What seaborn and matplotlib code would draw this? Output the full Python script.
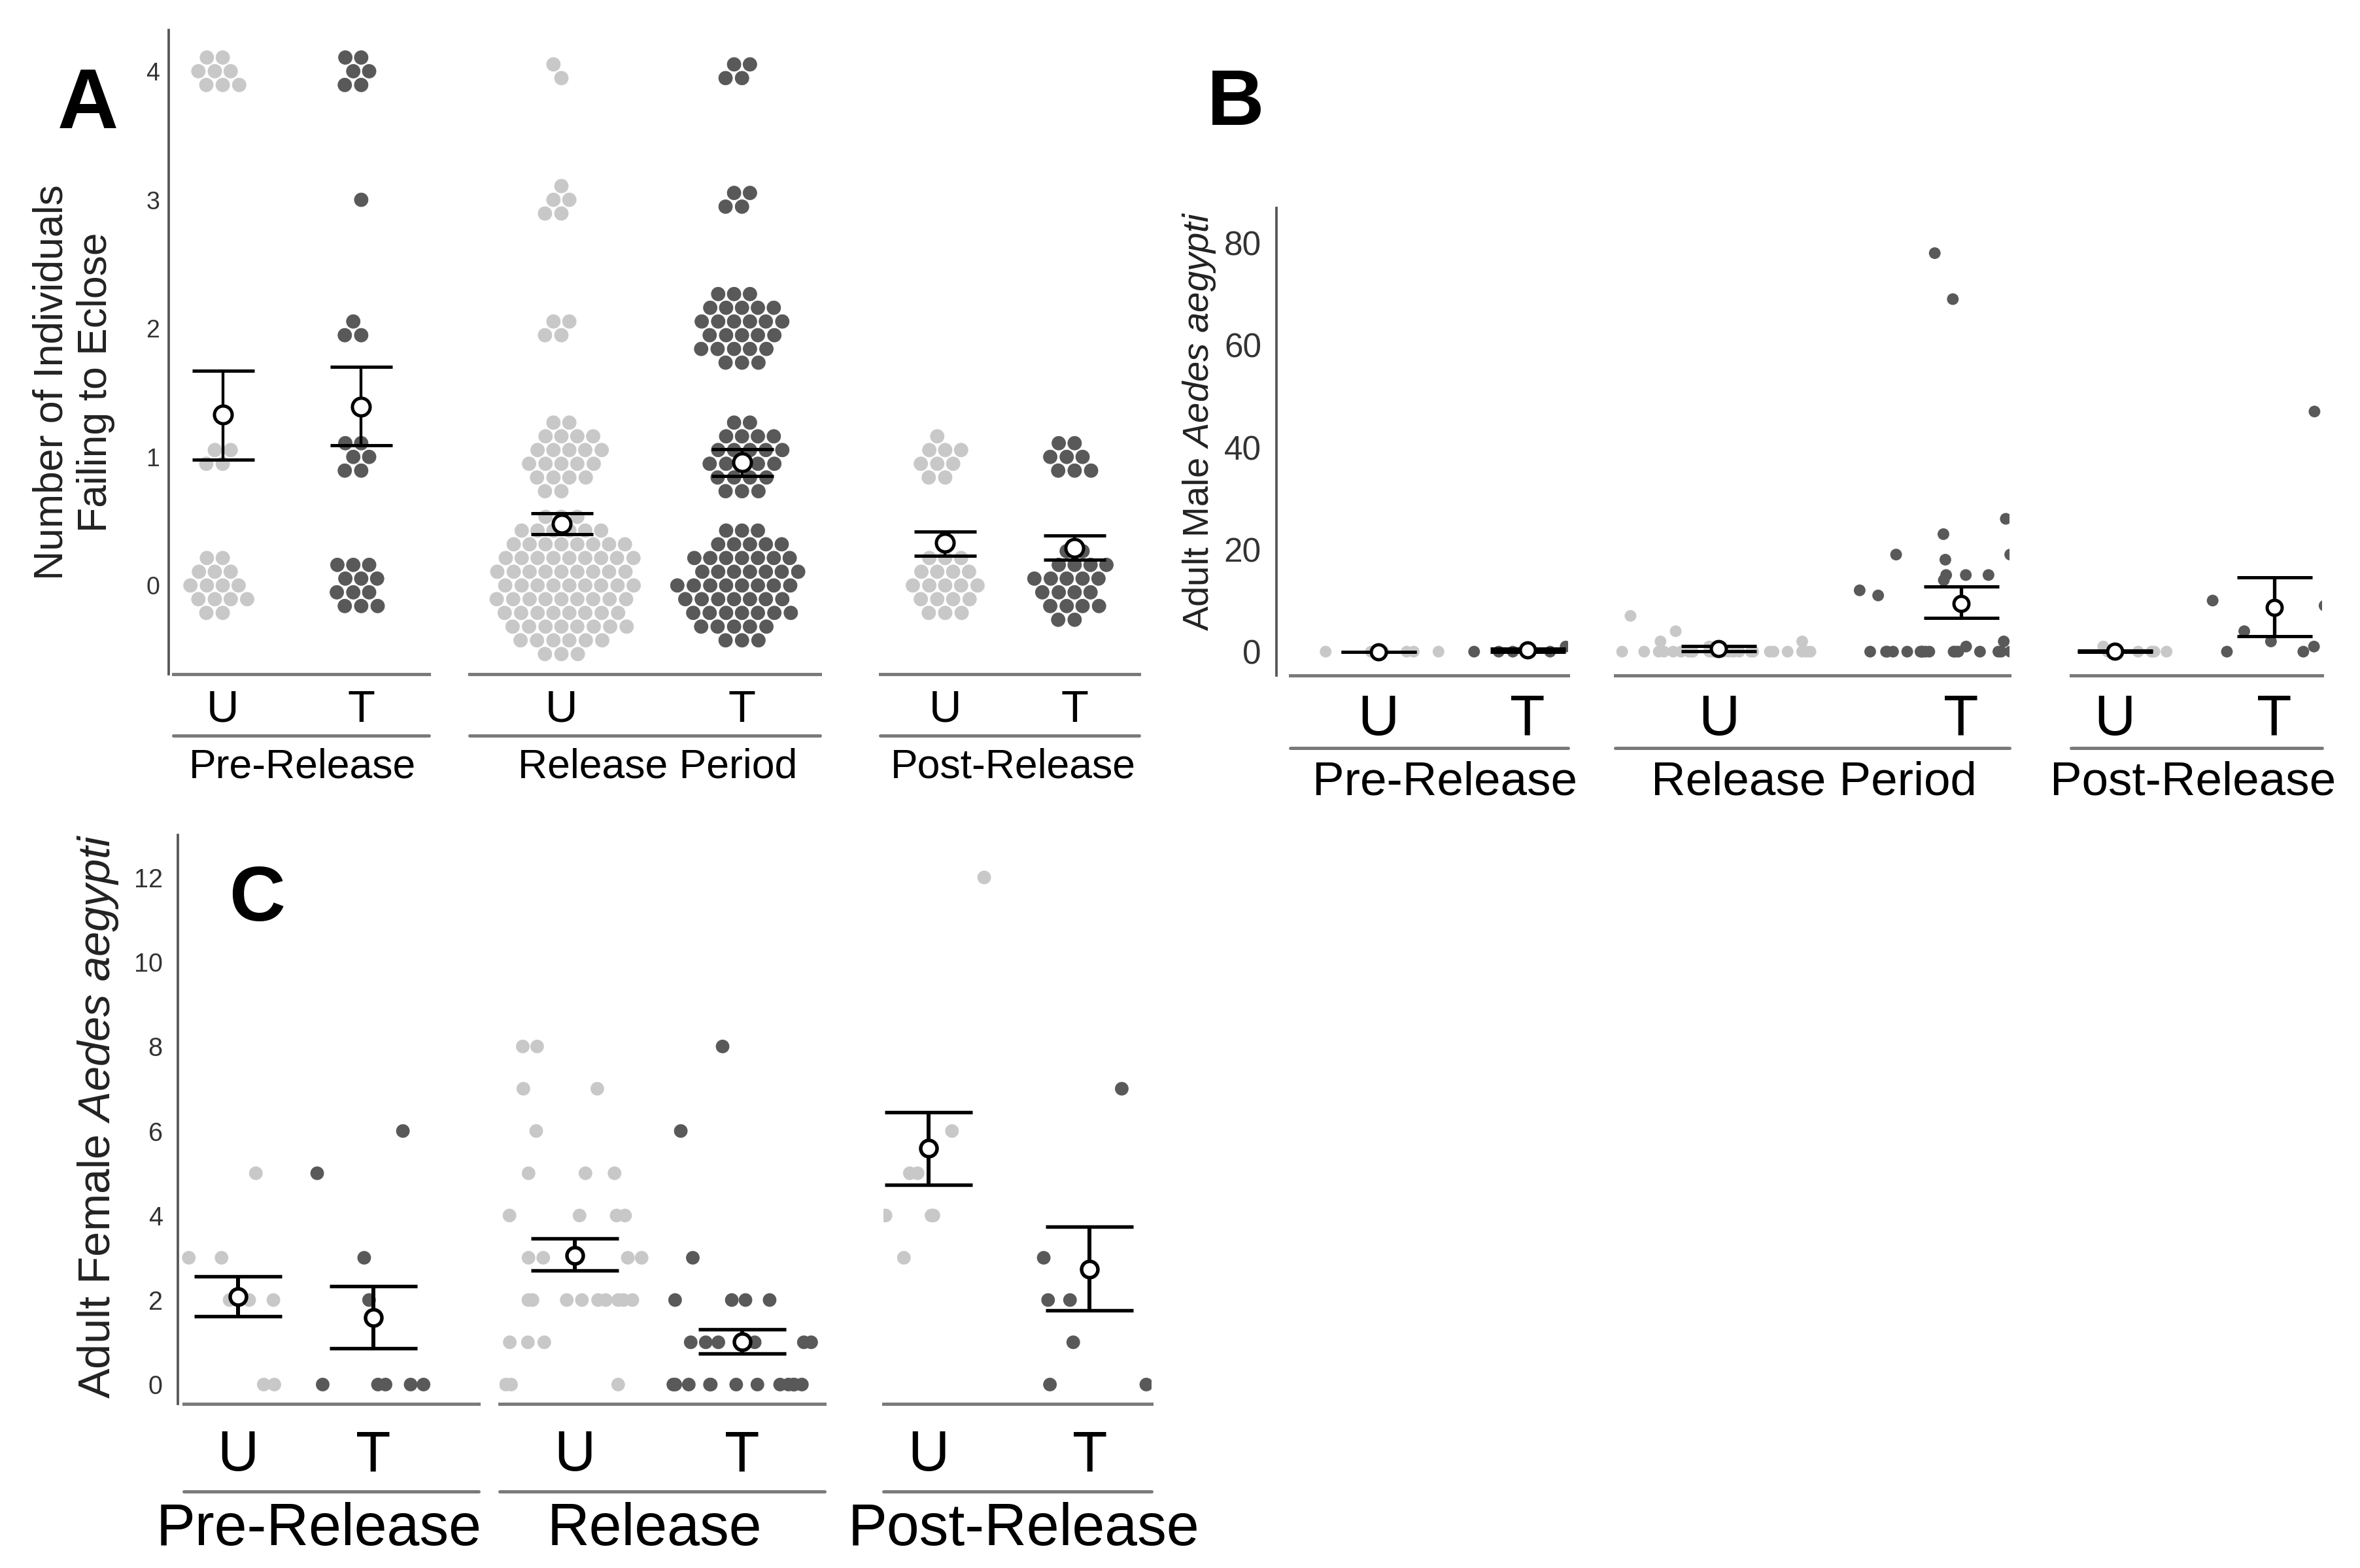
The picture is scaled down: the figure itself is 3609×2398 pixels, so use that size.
import numpy as np
import pandas as pd
import seaborn as sns
import matplotlib.pyplot as plt
from matplotlib.lines import Line2D

sns.set_theme(style="white")
plt.rcParams["font.family"] = ["Liberation Sans", "DejaVu Sans"]
plt.rcParams["mathtext.fontset"] = "custom"
plt.rcParams["mathtext.rm"] = "Liberation Sans"
plt.rcParams["mathtext.it"] = "Liberation Sans:italic"
np.random.seed(7)

trts = ["U", "T"]
pal = {"U": "#c8c8c8", "T": "#595959"}
periods_ab = ["Pre-Release", "Release Period", "Post-Release"]
periods_c = ["Pre-Release", "Release", "Post-Release"]

# ---- panel A: number of traps with 0..4 individuals failing to eclose
a_values = [0, 1, 2, 3, 4]
a_pre_u = [15, 4, 0, 0, 8]
a_pre_t = [12, 6, 3, 1, 6]
a_rel_u = [78, 22, 4, 5, 2]
a_rel_t = [52, 23, 27, 4, 4]
a_post_u = [19, 9, 0, 0, 0]
a_post_t = [21, 8, 0, 0, 0]
# mean and SE limits, order: pre U, pre T, release U, release T, post U, post T
a_mean = [1.33, 1.39, 0.48, 0.96, 0.33, 0.29]
a_lo = [0.98, 1.09, 0.40, 0.85, 0.23, 0.20]
a_hi = [1.67, 1.70, 0.56, 1.06, 0.42, 0.39]

# ---- panel B: adult male Aedes aegypti
b_pre_u = [0, 0, 0, 0, 0, 0, 0]
b_pre_t = [0, 0, 0, 0, 1, 0]
b_rel_u = [7, 4, 2, 2, 1] + [0] * 25
b_rel_t = [78, 69, 26, 23, 20, 19, 19, 18, 15, 15, 15, 14, 12, 11, 2, 1] + [0] * 22
b_post_u = [1] + [0] * 8
b_post_t = [47, 11, 10, 9, 4, 2, 1, 0, 0]
b_mean = [0.0, 0.3, 0.6, 9.4, 0.1, 8.6]
b_lo = [0.0, 0.0, 0.1, 6.6, 0.0, 3.0]
b_hi = [0.0, 0.6, 1.1, 12.7, 0.2, 14.5]

# ---- panel C: adult female Aedes aegypti
c_pre_u = [5, 3, 3, 2, 2, 2, 0, 0]
c_pre_t = [6, 5, 3, 2, 0, 0, 0, 0, 0]
c_rel_u = [8, 8, 7, 7, 6, 5, 5, 5, 4, 4, 4, 4, 3, 3, 3, 3,
           2, 2, 2, 2, 2, 2, 2, 2, 2, 1, 1, 1, 0, 0, 0]
c_rel_t = [8, 6, 3, 2, 2, 2, 2, 1, 1, 1, 1, 1, 1] + [0] * 12
c_post_u = [12, 8, 6, 5, 5, 5, 4, 4, 4, 3]
c_post_t = [7, 3, 2, 2, 1, 0, 0]
c_mean = [2.08, 1.58, 3.06, 1.01, 5.60, 2.73]
c_lo = [1.61, 0.85, 2.70, 0.73, 4.73, 1.75]
c_hi = [2.56, 2.33, 3.45, 1.30, 6.45, 3.74]


def spread(n, unit_px, step_px=21.0, pitch_px=24.0):
    # pack n tied dots into a roughly round blob of rows (beeswarm style)
    if n <= 1:
        return np.zeros(n)
    r = np.sqrt(n * step_px * pitch_px / np.pi)
    nrows = max(1, int(round(2 * r / step_px)))
    off = (np.arange(nrows) - (nrows - 1) / 2) * step_px
    w = np.sqrt(np.clip(r ** 2 - off ** 2, 0, None)) + 1e-6
    share = w / w.sum() * n
    cnt = np.floor(share).astype(int)
    rest = n - cnt.sum()
    cnt[np.argsort(-(share - cnt))[:rest]] += 1
    return np.repeat(off, cnt) / unit_px


rows = []
for period, trt, counts in [("Pre-Release", "U", a_pre_u), ("Pre-Release", "T", a_pre_t),
                            ("Release Period", "U", a_rel_u), ("Release Period", "T", a_rel_t),
                            ("Post-Release", "U", a_post_u), ("Post-Release", "T", a_post_t)]:
    for v, c in zip(a_values, counts):
        for y in v + spread(c, 196.8):
            rows.append((period, trt, y))
df_a = pd.DataFrame(rows, columns=["period", "trt", "y"])


def long_table(groups):
    out = []
    for period, trt, vals in groups:
        out += [(period, trt, v) for v in vals]
    return pd.DataFrame(out, columns=["period", "trt", "y"])


df_b = long_table([("Pre-Release", "U", b_pre_u), ("Pre-Release", "T", b_pre_t),
                   ("Release Period", "U", b_rel_u), ("Release Period", "T", b_rel_t),
                   ("Post-Release", "U", b_post_u), ("Post-Release", "T", b_post_t)])
df_c = long_table([("Pre-Release", "U", c_pre_u), ("Pre-Release", "T", c_pre_t),
                   ("Release", "U", c_rel_u), ("Release", "T", c_rel_t),
                   ("Post-Release", "U", c_post_u), ("Post-Release", "T", c_post_t)])

W, H = 1568.0, 1042.0
fig = plt.figure(figsize=(3609 / 300, 2398 / 300), dpi=300)


def rect(l, t, r, b):
    return [l / W, 1 - b / H, (r - l) / W, (b - t) / H]


panels = [
    dict(df=df_a, periods=periods_ab, kind="swarm", top=20, bottom=448, spine=112,
         base=[(115, 285), (312, 545), (585, 757)], cats=[(148, 240), (373, 493), (628, 714)],
         line2=489, lab_y=517, lab_x=[201, 437, 673], lab_fs=15, cat_fs=16.5, cat_pad=5.5,
         ylim=(-0.69, 4.32), yticks=[0, 1, 2, 3, 4], tick_fs=9, tick_pad=3.3,
         err=(a_mean, a_lo, a_hi), cap=11.4, elw=1.3, ms=6.5, mew=1.2,
         ylabel="Number of Individuals\nFailing to Eclose", yl_xy=(49, 254), yl_fs=15,
         letter="A", let_xy=(38, 85), let_fs=31),
    dict(df=df_b, periods=periods_ab, kind="strip", top=138, bottom=449, spine=848,
         base=[(857, 1042), (1073, 1335), (1376, 1543)], cats=[(916, 1015), (1142, 1303), (1405, 1511)],
         line2=497, lab_y=528, lab_x=[960, 1205, 1457], lab_fs=17.5, cat_fs=21, cat_pad=6.6,
         ylim=(-4.7, 86.9), yticks=[0, 20, 40, 60, 80], tick_fs=12.3, tick_pad=5.5,
         err=(b_mean, b_lo, b_hi), cap=13.8, elw=1.6, ms=5.5, mew=1.2, dot=4.3,
         ylabel=r"Adult Male $\mathit{Aedes\ aegypti}$", yl_xy=(797, 280), yl_fs=13.5,
         letter="B", let_xy=(802, 83), let_fs=29),
    dict(df=df_c, periods=periods_c, kind="strip", top=555, bottom=933, spine=118,
         base=[(122, 318), (332, 548), (587, 765)], cats=[(158, 248), (382, 493), (617, 724)],
         line2=991, lab_y=1027, lab_x=[212, 435, 680], lab_fs=21.5, cat_fs=21, cat_pad=9.4,
         ylim=(-0.46, 13.0), yticks=[0, 2, 4, 6, 8, 10, 12], tick_fs=9.5, tick_pad=5.5,
         err=(c_mean, c_lo, c_hi), cap=16, elw=1.8, ms=6, mew=1.3, dot=5.0,
         ylabel=r"Adult Female $\mathit{Aedes\ aegypti}$", yl_xy=(65, 742), yl_fs=16.5,
         letter="C", let_xy=(152, 612), let_fs=28.5),
]

for p in panels:
    for i, period in enumerate(p["periods"]):
        bl, br = p["base"][i]
        cu, ct = p["cats"][i]
        xl = p["spine"] if i == 0 else bl
        ax = fig.add_axes(rect(xl, p["top"], br, p["bottom"]))
        sub = p["df"][p["df"]["period"] == period]
        if p["kind"] == "swarm":
            sns.swarmplot(data=sub, x="trt", y="y", hue="trt", order=trts, hue_order=trts,
                          palette=pal, size=5.5, linewidth=0.25, edgecolor="white",
                          legend=False, warn_thresh=1, ax=ax)
        else:
            sns.stripplot(data=sub, x="trt", y="y", hue="trt", order=trts, hue_order=trts,
                          palette=pal, size=p["dot"], linewidth=0, jitter=0.42,
                          legend=False, ax=ax)
        m, lo, hi = (np.array(e[2 * i:2 * i + 2]) for e in p["err"])
        ax.errorbar([0, 1], m, yerr=[m - lo, hi - m], fmt="o", color="black",
                    mfc="white", mec="black", ms=p["ms"], mew=p["mew"],
                    capsize=p["cap"], capthick=p["elw"], elinewidth=p["elw"] * 0.8,
                    zorder=5)
        d = ct - cu
        x0 = -(cu - xl) / d
        x1 = 1 + (br - ct) / d
        ax.set_xlim(x0, x1)
        ax.set_ylim(p["ylim"])
        ax.set_xlabel("")
        ax.set_ylabel("")
        for s in ["top", "right"]:
            ax.spines[s].set_visible(False)
        ax.spines["bottom"].set_bounds(x0 + (bl - xl) / d, x1)
        ax.spines["bottom"].set_color("#7a7a7a")
        ax.spines["bottom"].set_linewidth(1.2)
        ax.tick_params(axis="x", length=0, pad=p["cat_pad"], labelsize=p["cat_fs"],
                       labelcolor="black")
        if i == 0:
            ax.spines["left"].set_color("#555555")
            ax.spines["left"].set_linewidth(0.9)
            ax.set_yticks(p["yticks"])
            ax.tick_params(axis="y", length=0, pad=p["tick_pad"], labelsize=p["tick_fs"],
                           labelcolor="#333333")
        else:
            ax.spines["left"].set_visible(False)
            ax.set_yticks([])
        ax.patch.set_alpha(0)
        # bracket line above the period name
        fig.add_artist(Line2D([bl / W, br / W], [1 - p["line2"] / H] * 2,
                              transform=fig.transFigure, color="#7a7a7a", lw=1.2))
        fig.text(p["lab_x"][i] / W, 1 - p["lab_y"] / H, period, ha="center",
                 va="baseline", fontsize=p["lab_fs"], color="black")
    fig.text(p["yl_xy"][0] / W, 1 - p["yl_xy"][1] / H, p["ylabel"], rotation=90,
             ha="center", va="center", multialignment="center", fontsize=p["yl_fs"],
             color="#222222")
    fig.text(p["let_xy"][0] / W, 1 - p["let_xy"][1] / H, p["letter"], ha="left",
             va="baseline", fontsize=p["let_fs"], fontweight="bold", color="black")

fig.savefig("out.png", dpi=300, facecolor="white")
